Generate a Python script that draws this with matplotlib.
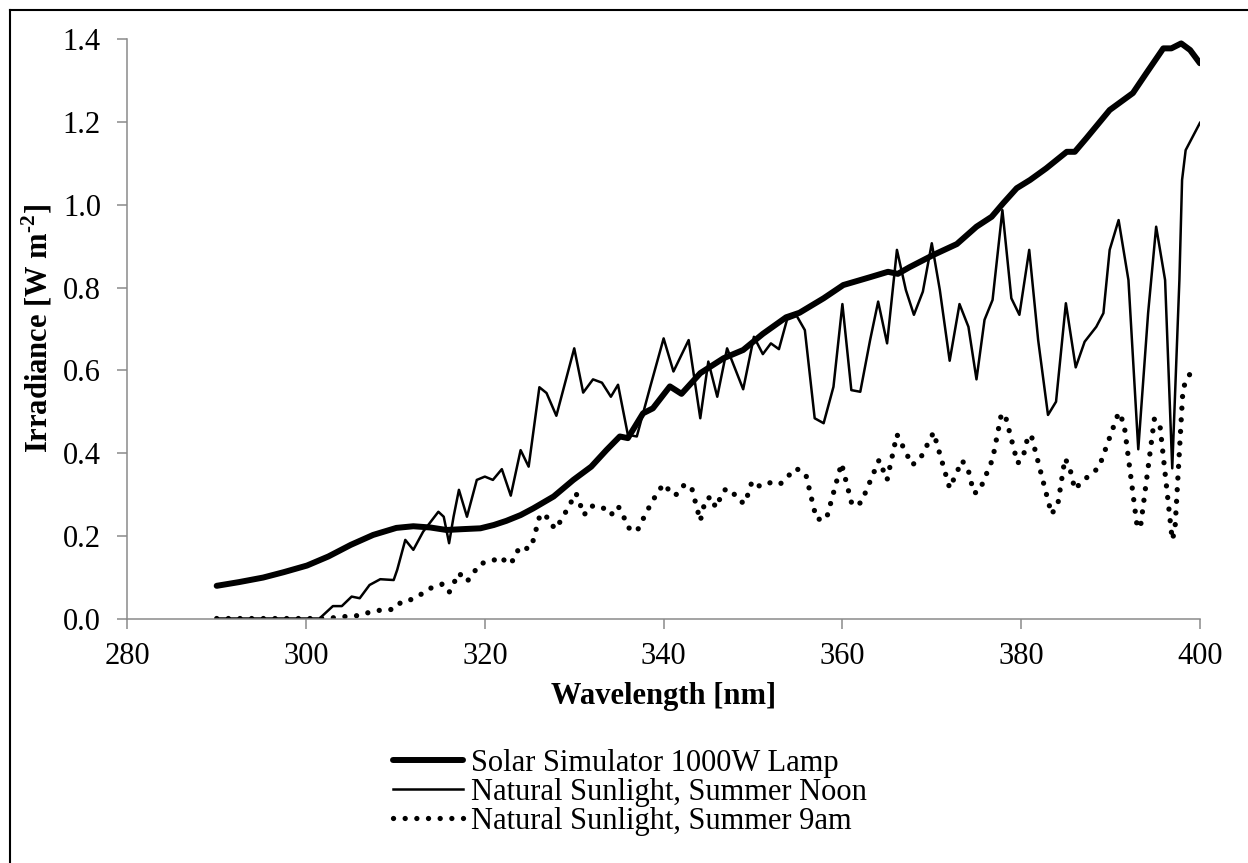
import matplotlib
matplotlib.use("Agg")
import matplotlib.pyplot as plt
from matplotlib.lines import Line2D

plt.rcParams["font.family"] = ["Liberation Serif", "DejaVu Serif"]
plt.rcParams["mathtext.fontset"] = "custom"
plt.rcParams["mathtext.rm"] = "Liberation Serif"
plt.rcParams["mathtext.bf"] = "Liberation Serif:bold"

# Solar Simulator 1000W Lamp
lamp_wl = [290.0, 292.5, 295.2, 297.5, 300.1, 302.5, 305.0, 307.5, 310.1, 312.0,
           313.9, 315.7, 317.5, 319.5, 321.0, 322.4, 324.0, 325.4, 327.7, 329.9,
           331.9, 333.6, 335.1, 336.0, 337.7, 338.8, 340.7, 342.0, 344.1, 346.7,
           348.9, 351.1, 353.7, 355.2, 357.9, 360.1, 363.1, 365.1, 366.2, 367.5,
           370.2, 372.8, 375.0, 376.7, 378.0, 379.5, 381.0, 382.8, 385.1, 386.0,
           387.3, 389.9, 392.5, 394.0, 395.9, 396.8, 397.9, 398.9, 400.0]
lamp_val = [0.079, 0.088, 0.099, 0.112, 0.128, 0.150, 0.178, 0.202, 0.219, 0.223,
            0.220, 0.214, 0.216, 0.218, 0.226, 0.236, 0.250, 0.266, 0.295, 0.335,
            0.367, 0.407, 0.440, 0.436, 0.496, 0.508, 0.561, 0.543, 0.593, 0.629,
            0.649, 0.688, 0.728, 0.739, 0.774, 0.806, 0.825, 0.838, 0.833, 0.849,
            0.879, 0.905, 0.947, 0.971, 1.004, 1.040, 1.060, 1.088, 1.128, 1.128,
            1.161, 1.229, 1.270, 1.318, 1.378, 1.378, 1.390, 1.374, 1.342]

# Natural Sunlight, Summer Noon
noon_wl = [290.0, 295.0, 300.0, 301.5, 302.0, 303.0, 304.0, 305.1, 306.0, 307.1,
           308.3, 309.8, 310.2, 311.1, 312.0, 313.1, 314.8, 315.4, 316.0, 316.5,
           317.1, 318.0, 319.1, 320.0, 320.9, 321.9, 322.9, 324.0, 324.9, 326.1,
           326.9, 328.0, 330.0, 331.0, 332.1, 333.1, 334.1, 334.9, 336.0, 337.0,
           338.5, 340.0, 341.1, 342.8, 344.1, 345.0, 346.0, 347.1, 348.9, 350.1,
           351.1, 352.0, 352.9, 353.8, 354.9, 355.8, 356.9, 357.9, 359.0, 360.0,
           361.0, 362.0, 363.1, 364.0, 365.0, 366.1, 367.1, 368.0, 369.0, 370.0,
           370.9, 372.0, 373.1, 374.1, 375.0, 375.9, 376.8, 377.9, 378.9, 379.8,
           380.9, 381.9, 383.0, 383.9, 385.0, 386.1, 387.1, 388.4, 389.2, 389.9,
           390.9, 392.0, 393.1, 394.2, 395.1, 396.1, 396.9, 397.7, 398.0, 398.4,
           400.0]
noon_val = [0.0, 0.0, 0.0, 0.0, 0.010, 0.030, 0.030, 0.053, 0.049, 0.081,
            0.095, 0.093, 0.118, 0.190, 0.166, 0.210, 0.258, 0.246, 0.182, 0.246,
            0.311, 0.246, 0.335, 0.343, 0.335, 0.361, 0.297, 0.407, 0.367, 0.559,
            0.545, 0.490, 0.653, 0.546, 0.578, 0.570, 0.536, 0.565, 0.444, 0.440,
            0.560, 0.677, 0.597, 0.673, 0.484, 0.621, 0.536, 0.653, 0.554, 0.681,
            0.639, 0.665, 0.651, 0.722, 0.731, 0.697, 0.484, 0.472, 0.560, 0.760,
            0.552, 0.548, 0.673, 0.766, 0.665, 0.891, 0.794, 0.734, 0.790, 0.907,
            0.794, 0.623, 0.760, 0.705, 0.578, 0.722, 0.770, 0.987, 0.774, 0.734,
            0.891, 0.673, 0.492, 0.524, 0.762, 0.607, 0.669, 0.705, 0.738, 0.891,
            0.963, 0.818, 0.409, 0.738, 0.947, 0.818, 0.363, 0.818, 1.060, 1.132,
            1.198]

# Natural Sunlight, Summer 9am
am_wl = [290.0, 295.0, 301.5, 303.2, 304.5, 305.8, 307.1, 308.5, 309.8, 310.7,
         311.8, 312.9, 314.0, 315.2, 316.0, 317.1, 318.0, 319.5, 320.6, 321.8,
         322.6, 323.4, 323.8, 324.6, 325.2, 326.2, 327.2, 327.8, 328.5, 330.2,
         331.1, 331.8, 333.1, 334.1, 334.9, 335.5, 336.0, 337.0, 338.2, 339.5,
         340.2, 340.8, 341.5, 342.3, 343.1, 344.1, 344.7, 345.4, 345.8, 346.8,
         347.6, 348.3, 349.1, 349.9, 350.8, 351.9, 353.0, 354.8, 355.9, 357.1,
         358.2, 359.9, 361.1, 362.1, 364.1, 365.0, 366.1, 367.8, 368.7, 370.2,
         372.0, 373.4, 374.1, 374.7, 375.3, 376.8, 377.8, 378.3, 379.6, 380.2,
         380.8, 381.2, 383.4, 384.1, 384.9, 385.4, 386.0, 386.8, 388.7, 390.9,
         391.5, 393.0, 393.4, 394.9, 395.5, 396.9, 397.2, 398.1, 398.6, 399.5]
am_val = [0.0, 0.0, 0.0, 0.002, 0.005, 0.007, 0.015, 0.021, 0.022, 0.041,
          0.046, 0.059, 0.074, 0.083, 0.063, 0.110, 0.089, 0.133, 0.137, 0.149,
          0.131, 0.145, 0.172, 0.169, 0.172, 0.253, 0.242, 0.216, 0.236, 0.303,
          0.250, 0.272, 0.270, 0.250, 0.272, 0.248, 0.220, 0.210, 0.262, 0.312,
          0.325, 0.300, 0.300, 0.323, 0.319, 0.236, 0.289, 0.294, 0.268, 0.311,
          0.311, 0.286, 0.278, 0.332, 0.319, 0.328, 0.324, 0.363, 0.349, 0.240,
          0.240, 0.375, 0.273, 0.280, 0.383, 0.335, 0.445, 0.371, 0.386, 0.450,
          0.315, 0.382, 0.357, 0.303, 0.307, 0.385, 0.496, 0.484, 0.375, 0.389,
          0.444, 0.437, 0.252, 0.276, 0.387, 0.367, 0.312, 0.331, 0.365, 0.498,
          0.472, 0.218, 0.230, 0.482, 0.472, 0.190, 0.214, 0.555, 0.582, 0.610]

fig = plt.figure(figsize=(12.48, 8.63), dpi=100)
ax = fig.add_axes([0.102, 0.2833, 0.8595, 0.6712])

ax.plot(lamp_wl, lamp_val, color="black", lw=4.3, solid_joinstyle="round",
        solid_capstyle="round", label="Solar Simulator 1000W Lamp")
ax.plot(noon_wl, noon_val, color="black", lw=1.8, solid_joinstyle="round",
        label="Natural Sunlight, Summer Noon")
ax.plot(am_wl, am_val, color="black", lw=3.8, linestyle=(0, (0.01, 2.2)),
        dash_capstyle="round", label="Natural Sunlight, Summer 9am")

ax.set_xlim(280, 400)
ax.set_ylim(0, 1.4)
ax.set_xticks([280, 300, 320, 340, 360, 380, 400])
ax.set_yticks([0.0, 0.2, 0.4, 0.6, 0.8, 1.0, 1.2, 1.4])
ax.set_yticklabels(["%.1f" % v for v in ax.get_yticks()])

for s in ["top", "right"]:
    ax.spines[s].set_visible(False)
for s in ["left", "bottom"]:
    ax.spines[s].set_color("#8a8a8a")
    ax.spines[s].set_linewidth(1.1)
ax.tick_params(axis="both", direction="out", length=7, width=1.1,
               color="#8a8a8a", labelsize=22)
ax.tick_params(axis="y", pad=12)
ax.tick_params(axis="x", pad=10)

ax.set_xlabel("Wavelength [nm]", fontsize=22, fontweight="bold", labelpad=8)
ax.set_ylabel(r"Irradiance [W m$^{\mathbf{\text{-}2}}$]", fontsize=22,
              fontweight="bold", labelpad=6)

fig.legend(loc="center", bbox_to_anchor=(630 / 1248, 1 - 792 / 863),
           frameon=False, fontsize=22, handlelength=2.3, handletextpad=0.25,
           labelspacing=0.0, borderpad=0)

# outer border (left and top edges visible)
fig.add_artist(Line2D([9.5 / 1248, 9.5 / 1248], [0, 1 - 10.5 / 863],
                      color="black", lw=1.5))
fig.add_artist(Line2D([9.5 / 1248, 1], [1 - 10.5 / 863, 1 - 10.5 / 863],
                      color="black", lw=1.5))

fig.savefig("out.png", dpi=100)
